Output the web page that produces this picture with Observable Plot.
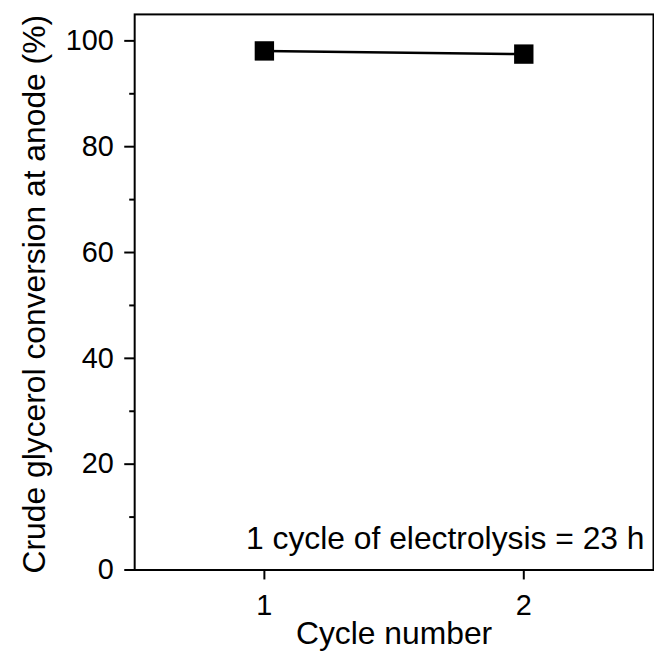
<!DOCTYPE html>
<html>
<head>
<meta charset="utf-8">
<script src="https://cdn.jsdelivr.net/npm/d3@7"></script>
<script src="https://cdn.jsdelivr.net/npm/@observablehq/plot@0.6"></script>
<style>
html, body { margin: 0; padding: 0; background: #fff; overflow: hidden; }
#chart { width: 654px; height: 659px; overflow: hidden; }
</style>
</head>
<body>
<div id="chart"></div>
<script>
const cycles = [1, 2];
const conversion = [98.1, 97.5];
const majorTicks = [0, 20, 40, 60, 80, 100];
const minorTicks = [10, 30, 50, 70, 90];
const xTicks = [1, 2];
const note = "1 cycle of electrolysis = 23 h";
const xLabel = "Cycle number";
const yLabel = "Crude glycerol conversion at anode (%)";

const data = cycles.map((c, i) => ({cycle: c, value: conversion[i]}));
const font = "Liberation Sans, Arial, Helvetica, sans-serif";

const chart = Plot.plot({
  width: 658,
  height: 659,
  marginTop: 14,
  marginBottom: 86,
  marginLeft: 135,
  marginRight: 1,
  style: {fontFamily: font, background: "white", color: "black", overflow: "visible"},
  x: {domain: [0.5, 2.5]},
  y: {domain: [0, 105]},
  marks: [
    Plot.axisY({ticks: minorTicks, tickSize: 5, text: null, label: null, strokeWidth: 2}),
    Plot.axisY({ticks: majorTicks, tickSize: 10, tickPadding: 11, fontSize: 29, strokeWidth: 2, label: null}),
    Plot.axisX({ticks: xTicks, tickSize: 10, tickPadding: 15, fontSize: 29, strokeWidth: 2,
      tickFormat: d => String(d), label: null}),
    Plot.frame({stroke: "black", strokeWidth: 2}),
    Plot.line(data, {x: "cycle", y: "value", stroke: "black", strokeWidth: 2.5}),
    Plot.dot(data, {x: "cycle", y: "value", symbol: "square", r: 11, fill: "black", stroke: "none"}),
    Plot.text([note], {frameAnchor: "bottom-right", dx: -9, dy: -31, fontSize: 32,
      textAnchor: "end", lineAnchor: "middle", fill: "black"}),
    Plot.text([xLabel], {frameAnchor: "bottom", dy: 64, fontSize: 32,
      textAnchor: "middle", lineAnchor: "middle", fill: "black"}),
    Plot.text([yLabel], {frameAnchor: "left", dx: -100, dy: 2, rotate: -90, fontSize: 32,
      textAnchor: "middle", lineAnchor: "middle", fill: "black"})
  ]
});
document.getElementById("chart").appendChild(chart);
</script>
</body>
</html>
